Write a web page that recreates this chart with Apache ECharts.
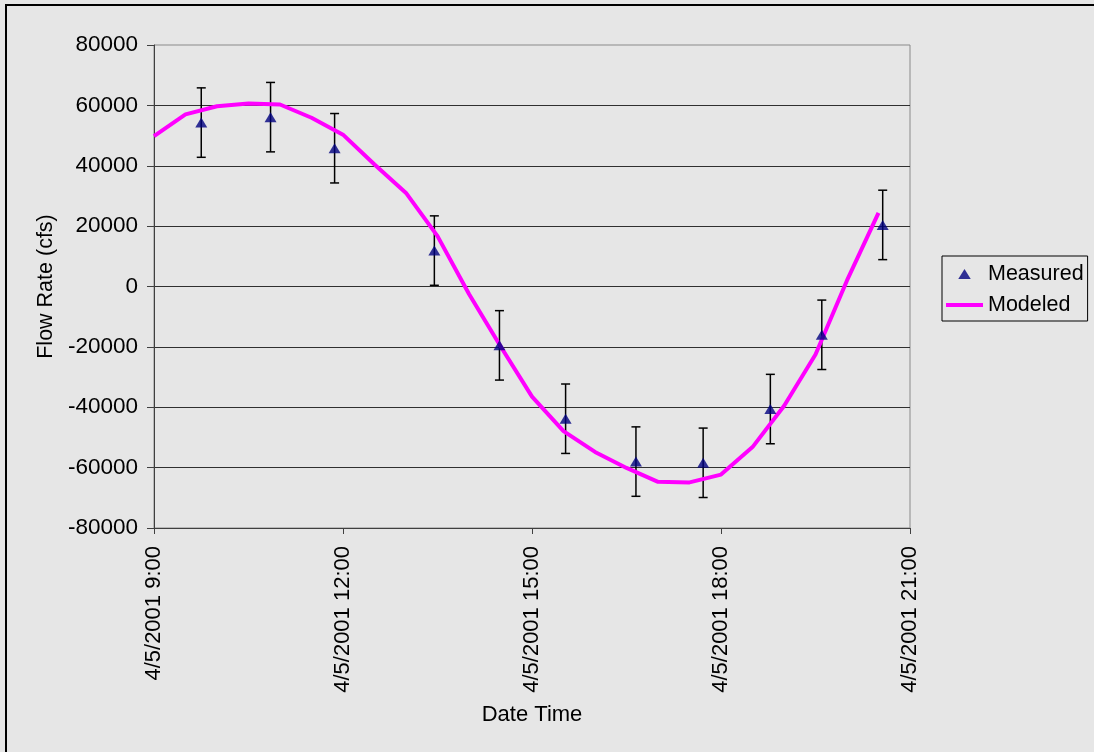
<!DOCTYPE html>
<html>
<head>
<meta charset="utf-8">
<script src="https://cdn.jsdelivr.net/npm/echarts@6/dist/echarts.min.js"></script>
<style>
html,body{margin:0;padding:0;background:#e6e6e6;}
#chart{width:1094px;height:752px;}
</style>
</head>
<body>
<div id="chart"></div>
<script>
// ---- data ----
const modelTimes = ['09:00','09:30','10:00','10:30','11:00','11:30','12:00','12:30','13:00','13:30','14:00','14:30',
                    '15:00','15:30','16:00','16:30','17:00','17:30','18:00','18:30','19:00','19:30','20:00','20:30'];
const modelFlow  = [49800, 57000, 59700, 60600, 60300, 55900, 50300, 40400, 31000, 16700, -2500, -19800,
                    -36500, -47900, -54800, -60100, -64700, -64900, -62300, -53200, -39600, -22500, 2000, 24400];

const measuredTimes = ['09:45','10:51','11:52','13:27','14:29','15:32','16:39','17:43','18:47','19:36','20:34'];
const measuredFlow  = [54300, 56100, 45800, 11900, -19500, -43800, -58000, -58400, -40600, -16000, 20400];
const measuredErr   = [11500, 11500, 11500, 11500, 11500, 11500, 11500, 11500, 11500, 11500, 11500];

const xTickLabels = ['4/5/2001 9:00','4/5/2001 12:00','4/5/2001 15:00','4/5/2001 18:00','4/5/2001 21:00'];
const yTickLabels = ['-80000','-60000','-40000','-20000','0','20000','40000','60000','80000'];

// ---- helpers ----
function toHours(t){ const p = t.split(':'); return (+p[0]) + (+p[1])/60; }
const FONT = "'Liberation Sans', Arial, sans-serif";

const modelData = modelTimes.map((t,i)=>[toHours(t), modelFlow[i]]);
const measData  = measuredTimes.map((t,i)=>[toHours(t), measuredFlow[i]]);
const errData   = measuredTimes.map((t,i)=>[toHours(t), measuredFlow[i], measuredErr[i]]);

const chart = echarts.init(document.getElementById('chart'), null, {renderer:'canvas'});
chart.setOption({
  backgroundColor: '#e6e6e6',
  animation: false,
  textStyle: {fontFamily: FONT},
  grid: {left:154, right:184, top:45, bottom:224, show:true, borderColor:'#8a8a8a', borderWidth:1, backgroundColor:'transparent'},
  graphic: [{
    type:'rect', silent:true, z:-1,
    shape:{x:6, y:5, width:1200, height:1000},
    style:{fill:'none', stroke:'#000', lineWidth:2}
  }],
  legend: {
    orient:'vertical', left:942, top:256,
    borderColor:'#000', borderWidth:1, borderRadius:0,
    padding:[7,4,5,4], itemGap:9, itemWidth:37, itemHeight:10,
    textStyle:{fontSize:21.5, color:'#000', fontFamily:FONT},
    data:[
      {name:'Measured', icon:'path://M5,0L10,8L0,8Z', itemStyle:{color:'#000080'}},
      {name:'Modeled', icon:'path://M0,3L37,3L37,7L0,7Z', itemStyle:{color:'#ff00ff'}}
    ]
  },
  xAxis: {
    type:'value', min:9, max:21, interval:3,
    name:'Date Time', nameLocation:'middle', nameGap:176,
    nameTextStyle:{fontSize:22, color:'#000', fontFamily:FONT},
    axisLine:{show:true, onZero:false, lineStyle:{color:'#404040', width:1}},
    axisTick:{show:true, length:6, inside:false, lineStyle:{color:'#404040'}},
    axisLabel:{rotate:90, margin:18, fontSize:22, color:'#000', fontFamily:FONT,
      formatter:(v)=> xTickLabels[Math.round((v-9)/3)]},
    splitLine:{show:false}
  },
  yAxis: {
    type:'value', min:-80000, max:80000, interval:20000,
    name:'Flow Rate (cfs)', nameLocation:'middle', nameGap:97, nameRotate:90,
    nameTextStyle:{fontSize:21.5, color:'#000', fontFamily:FONT},
    axisLine:{show:true, lineStyle:{color:'#404040', width:1}},
    axisTick:{show:true, length:7, inside:false, lineStyle:{color:'#404040'}},
    axisLabel:{margin:16, fontSize:22.5, color:'#000', fontFamily:FONT,
      formatter:(v)=> yTickLabels[Math.round((v+80000)/20000)]},
    splitLine:{show:true, showMaxLine:false, lineStyle:{color:'#303030', width:1}}
  },
  series: [
    {
      name:'Error', type:'custom', z:2, silent:true,
      data: errData,
      renderItem: function(params, api){
        const x = api.value(0), y = api.value(1), e = api.value(2);
        const top = api.coord([x, y+e]);
        const bot = api.coord([x, y-e]);
        const st = {stroke:'#000', lineWidth:1.5};
        return {type:'group', children:[
          {type:'line', shape:{x1:top[0], y1:top[1], x2:bot[0], y2:bot[1]}, style:st},
          {type:'line', shape:{x1:top[0]-4.5, y1:top[1], x2:top[0]+4.5, y2:top[1]}, style:st},
          {type:'line', shape:{x1:bot[0]-4.5, y1:bot[1], x2:bot[0]+4.5, y2:bot[1]}, style:st}
        ]};
      }
    },
    {
      name:'Modeled', type:'line', z:3, data: modelData,
      symbol:'none', smooth:false,
      lineStyle:{color:'#ff00ff', width:4}, itemStyle:{color:'#ff00ff'}
    },
    {
      name:'Measured', type:'scatter', z:4, data: measData,
      symbol:'triangle', symbolSize:[12,10],
      itemStyle:{color:'#000080'}
    }
  ]
});
</script>
</body>
</html>
